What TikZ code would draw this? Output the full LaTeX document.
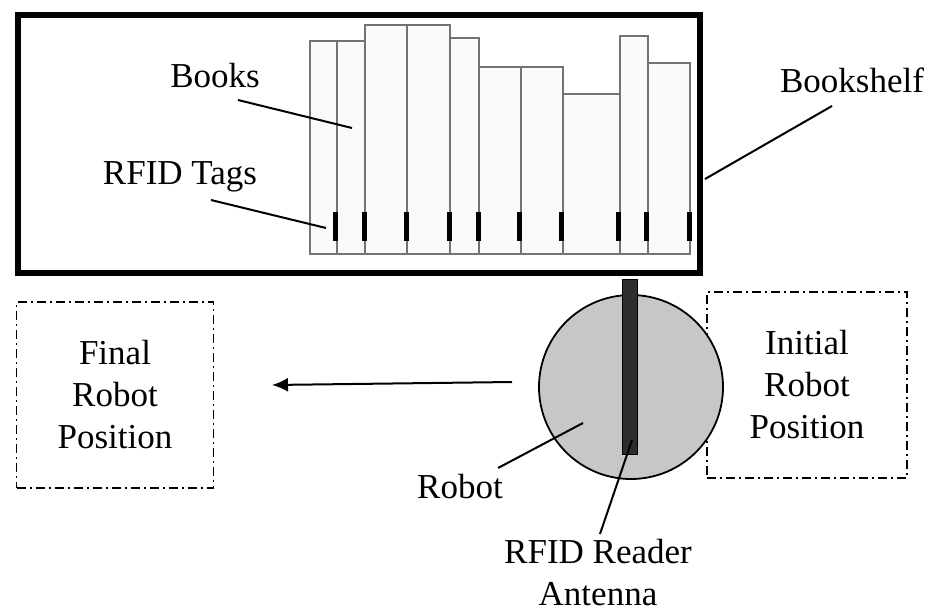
\documentclass[tikz,border=0pt]{standalone}
\usepackage{fontspec}
\setmainfont{Liberation Serif}
\usetikzlibrary{arrows.meta}
\begin{document}
\begin{tikzpicture}[x=1pt,y=-1pt,
  lbl/.style={font=\fontsize{35}{42}\selectfont, inner sep=0pt, align=center},
  book/.style={draw=black!55, line width=1.3pt, fill=black!2},
  tag/.style={fill=black, draw=none},
  ptr/.style={line width=2pt},
  posbox/.style={draw, line width=1.6pt, dash pattern=on 9pt off 4pt on 2pt off 4pt, minimum width=197pt, minimum height=186pt},
  shelf/.style={draw, line width=6pt}]
\useasboundingbox (0,0) rectangle (929,614);
% books
\foreach \l/\r/\t in {310/337/41, 337/365/41, 365/407/25, 407/450/25, 450/479/38, 479/521/67, 521/563/67, 563/620/94, 620/648/36, 648/690/63}{
  \draw[book] (\l,254) rectangle (\r,\t);
}
\foreach \x in {335, 364, 406, 449, 478, 519, 561, 618, 646, 689}{
  \fill[tag] (\x-2.5,212) rectangle (\x+2.5,241);
}
% bookshelf frame
\node[shelf, minimum width=682pt, minimum height=258pt, inner sep=0pt, anchor=north west] (shelf) at (15,12) {};
% labels
\node[lbl] (bookslbl) at (215,76) {Books};
\node[lbl] (tagslbl) at (180,177) {RFID Tags};
\node[lbl] (shelflbl) at (852,80) {Bookshelf};
\coordinate (bookpt) at (352,128);
\coordinate (tagpt) at (326,228);
\draw[ptr] (238,100) -- (bookpt);
\draw[ptr] (211,200) -- (tagpt);
\draw[ptr] (705,179) -- (832,106);
% position boxes
\node[posbox, lbl, inner sep=0pt] (final) at (115,395) {Final\\Robot\\Position};
\node[posbox, lbl, minimum width=200pt, inner sep=0pt] (initial) at (807,385) {Initial\\Robot\\Position};
% robot
\node[circle, draw, line width=1.8pt, fill=black!22, minimum size=184pt, inner sep=0pt] (robot) at (631,387) {};
\node[draw, line width=1pt, fill=black!82, minimum width=15pt, minimum height=175pt, inner sep=0pt, anchor=north] (antenna) at (630,279) {};
% arrow
\coordinate (arrstart) at (512,382);
\coordinate (arrend) at (272,385);
\draw[line width=2pt, -{Latex[length=16pt,width=14pt]}] (arrstart) -- (arrend);
% robot labels
\node[lbl] (robotlbl) at (460,487) {Robot};
\draw[ptr] (498,468) -- (583,423);
\node[lbl, anchor=north] (antlbl) at (598,539) {RFID Reader\\Antenna};
\draw[ptr] (600,534) -- (632,440);
\end{tikzpicture}
\end{document}
